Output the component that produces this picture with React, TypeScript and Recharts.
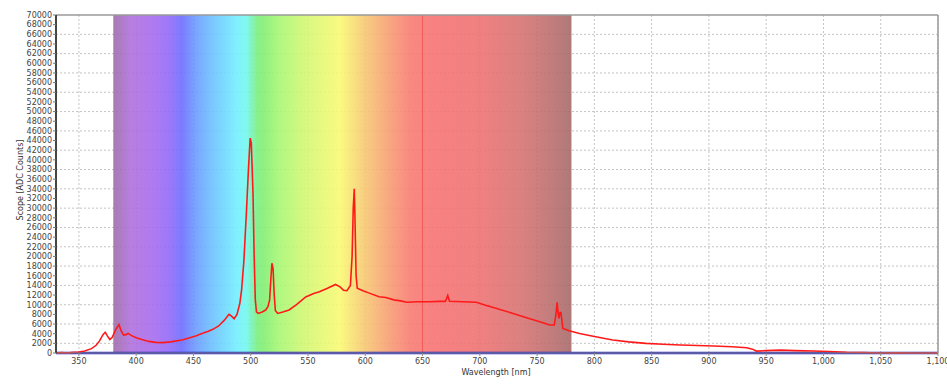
import {
  LineChart,
  Line,
  XAxis,
  YAxis,
  CartesianGrid,
  ReferenceArea,
  ReferenceLine,
  Label,
} from 'recharts';

// wavelength [nm] and scope counts
const wavelengths = [
  330, 335, 340, 345, 350, 355, 361, 365, 368, 371, 373, 375, 377, 379, 382, 385, 387, 389, 391, 393,
  396, 400, 405, 411, 417, 423, 430, 440, 446, 452, 458, 463, 467, 472, 477, 481, 483, 485.5, 488, 490.5,
  492, 494, 496, 498, 499.5, 500.5, 502, 503, 504, 505, 506.5, 510, 513, 515, 516.5, 517.5, 518.5, 519.5,
  520.5, 521.5, 523.5, 528, 533.5, 540, 548, 555, 560, 567, 574, 578, 581, 584, 587, 588.5, 589.5, 590.4,
  591, 592, 593, 598, 603.5, 612, 618, 625, 631, 636, 645, 656, 665, 670, 672, 673.5, 685, 697, 705, 714,
  729, 743, 753, 761, 765, 766.5, 767.5, 768.3, 769, 770, 770.8, 772.5, 778, 787, 800, 816, 830, 845, 860,
  875, 890, 904, 920, 933, 938, 941.5, 950, 962, 975, 991, 1005, 1020, 1035, 1049, 1065, 1080, 1100,
];
const counts = [
  0, 100, 0, 150, 200, 400, 900, 1600, 2500, 3800, 4300, 3500, 2800, 3200, 4800, 5900, 4500, 3700, 3800, 4050,
  3600, 3150, 2800, 2400, 2200, 2150, 2300, 2700, 3100, 3500, 4100, 4500, 4900, 5600, 6800, 8000, 7700, 7100, 8000, 10300,
  13000, 19000, 28000, 38000, 44500, 43500, 33000, 20000, 11000, 8500, 8200, 8500, 8900, 9600, 11000, 15000, 18600, 17500,
  12000, 8800, 8200, 8500, 8900, 10000, 11600, 12300, 12700, 13400, 14200, 13700, 13000, 12900, 14000, 20000, 30000, 34000,
  28000, 16000, 13400, 12900, 12400, 11650, 11500, 11000, 10800, 10500, 10600, 10600, 10700, 10700, 11900, 10700, 10600, 10500, 9900, 9250,
  8200, 7150, 6400, 5800, 5800, 8000, 10500, 8500, 7150, 8400, 8400, 5100, 4600, 4050, 3400, 2700, 2300, 2000, 1800,
  1650, 1550, 1450, 1300, 1100, 800, 400, 500, 600, 500, 400, 300, 150, 100, 0, 50, 0, 0,
];

const xTicks = [350, 400, 450, 500, 550, 600, 650, 700, 750, 800, 850, 900, 950, 1000, 1050, 1100];
const yTicks = [
  0, 2000, 4000, 6000, 8000, 10000, 12000, 14000, 16000, 18000, 20000, 22000, 24000, 26000, 28000, 30000, 32000, 34000,
  36000, 38000, 40000, 42000, 44000, 46000, 48000, 50000, 52000, 54000, 56000, 58000, 60000, 62000, 64000, 66000, 68000, 70000,
];
const yGrid = [2000, 6000, 10000, 14000, 18000, 22000, 26000, 30000, 34000, 38000, 42000, 46000, 50000, 54000, 58000, 62000, 66000];

// visible band 380..780 nm
const bandStart = 380;
const bandEnd = 780;
const bandStops: Array<[number, string]> = [
  [380, '#a87bb0'], [395, '#b87ee0'], [415, '#b07af0'], [430, '#9a78fa'], [440, '#7b7bff'],
  [452, '#7aa4ff'], [465, '#7ac4ff'], [488, '#80f0ff'], [496, '#80f8f0'], [506, '#88f088'],
  [512, '#90f080'], [525, '#b0f880'], [545, '#d4f880'], [578, '#fafa80'], [598, '#f8d080'],
  [620, '#f8a880'], [640, '#f88880'], [660, '#f88080'], [700, '#f08080'], [740, '#d88080'],
  [765, '#c07c7c'], [780, '#b07878'],
];

const data = wavelengths.map((w, i) => ({ w, v: counts[i] }));

const FONT = '"DejaVu Sans", Verdana, sans-serif';
const ALPHA = 0.88;

// deepen an observed (blended-on-white) colour so that at ALPHA it looks the same
function deepen(hex: string) {
  const n = parseInt(hex.slice(1), 16);
  const ch = [(n >> 16) & 255, (n >> 8) & 255, n & 255].map((c) =>
    Math.max(0, Math.min(255, Math.round((c - 255 * (1 - ALPHA)) / ALPHA)))
  );
  return `rgb(${ch[0]},${ch[1]},${ch[2]})`;
}

export default function App() {
  return (
    <div
      style={{
        position: 'absolute',
        left: 0,
        top: 0,
        width: 947,
        height: 387,
        background: '#fff',
        fontFamily: FONT,
      }}
    >
      <LineChart width={947} height={387} data={data} margin={{ top: 0, right: 0, bottom: 0, left: 0 }}>
        <defs>
          <linearGradient id="spectrum" x1="0" y1="0" x2="1" y2="0">
            {bandStops.map(([nm, c]) => (
              <stop key={nm} offset={(nm - bandStart) / (bandEnd - bandStart)} stopColor={deepen(c)} />
            ))}
          </linearGradient>
        </defs>
        <CartesianGrid
          stroke="#c4c4c4"
          strokeDasharray="2 2"
          horizontalValues={yGrid}
          verticalValues={xTicks}
        />
        <XAxis
          dataKey="w"
          type="number"
          domain={[330, 1100]}
          allowDataOverflow
          ticks={xTicks}
          interval={0}
          tickFormatter={(v: number) => v.toLocaleString('en-US')}
          height={34}
          tickSize={3}
          tickMargin={2}
          axisLine={{ stroke: '#8a8a8a' }}
          tickLine={{ stroke: '#8a8a8a' }}
          tick={{ fontSize: 8, fill: '#444', fontFamily: FONT }}
        >
          <Label
            content={() => (
              <text x={496} y={375} textAnchor="middle" fontSize={8} fill="#333" fontFamily={FONT}>
                Wavelength [nm]
              </text>
            )}
          />
        </XAxis>
        <XAxis
          xAxisId="top"
          orientation="top"
          type="number"
          domain={[330, 1100]}
          height={15}
          tick={false}
          tickLine={false}
          axisLine={{ stroke: '#9a9a9a', strokeWidth: 1.5 }}
        />
        <YAxis
          type="number"
          domain={[0, 70000]}
          ticks={yTicks}
          interval={0}
          width={56}
          tickSize={3}
          tickMargin={1}
          axisLine={{ stroke: '#444', strokeWidth: 2 }}
          tickLine={{ stroke: '#777' }}
          tick={{ fontSize: 8, fill: '#444', fontFamily: FONT }}
        >
          <Label
            content={() => (
              <text
                x={20}
                y={180}
                transform="rotate(-90 20 180)"
                textAnchor="middle"
                dominantBaseline="middle"
                fontSize={8}
                fill="#333"
                fontFamily={FONT}
              >
                Scope [ADC Counts]
              </text>
            )}
          />
        </YAxis>
        <YAxis
          yAxisId="right"
          orientation="right"
          type="number"
          domain={[0, 70000]}
          width={9}
          tick={false}
          tickLine={false}
          axisLine={{ stroke: '#9a9a9a', strokeWidth: 1.5 }}
        />
        <ReferenceArea
          x1={bandStart}
          x2={bandEnd}
          y1={0}
          y2={70000}
          fill="url(#spectrum)"
          fillOpacity={ALPHA}
          stroke="none"
        />
        <ReferenceLine x={650} stroke="#f05a5a" strokeWidth={1} />
        <ReferenceLine y={0} stroke="#2a2ac4" strokeWidth={2.5} />
        <Line
          type="linear"
          dataKey="v"
          stroke="#ff1a1a"
          strokeWidth={1.6}
          dot={false}
          isAnimationActive={false}
        />
      </LineChart>
    </div>
  );
}
